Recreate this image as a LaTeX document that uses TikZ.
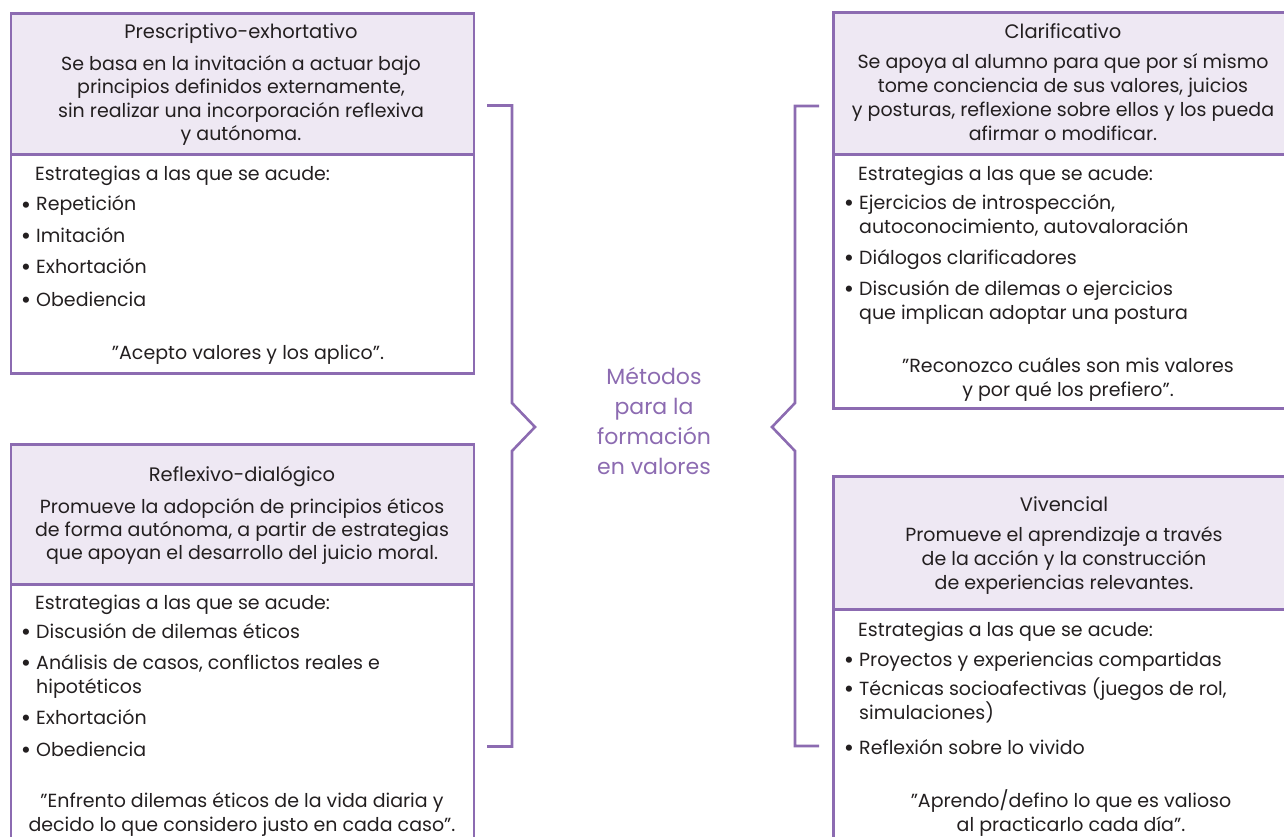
\documentclass[tikz,border=0pt]{standalone}
\usepackage{fontspec}
\setmainfont{Poppins}
\definecolor{vio}{HTML}{8C6BB1}
\definecolor{lav}{HTML}{EEE8F3}
\definecolor{ink}{HTML}{231F20}
\newcommand{\bul}{\llap{\raisebox{-2.6pt}{\fontsize{25}{25}\selectfont •}\hspace{5pt}}}
\begin{document}
\begin{tikzpicture}[x=1pt,y=-1pt,
  frame/.style={draw=vio, line width=2.6pt, inner sep=0pt, anchor=north west, minimum width=463pt},
  head/.style={frame, fill=lav},
  ttl/.style={font=\fontsize{19.5}{22}\selectfont, text=ink, anchor=base, inner sep=0pt},
  para/.style={font=\fontsize{19}{23.5}\selectfont, align=center, text=ink, anchor=base, inner sep=0pt},
  lbl/.style={font=\fontsize{19}{24}\selectfont, text=ink, anchor=base west, inner sep=0pt, align=left},
  quote/.style={font=\fontsize{19}{23.5}\selectfont, text=ink, anchor=base, inner sep=0pt, align=center},
  brace/.style={draw=vio, line width=2.6pt, line join=miter}]
\useasboundingbox (0,0) rectangle (1284,837);

% ---------- top left ----------
\node[frame, minimum height=219pt] (b1) at (9.5,153) {};
\node[head, minimum height=141pt] (h1) at (9.5,12) {};
\node[ttl] (t1) at (241,39) {Prescriptivo-exhortativo};
\node[para] (p1) at (241,141) {Se basa en la invitación a actuar bajo\\principios definidos externamente,\\sin realizar una incorporación reflexiva\\y autónoma.};
\node[lbl] (e1) at (35,181) {Estrategias a las que se acude:};
\node[lbl] (i11) at (36,211) {\bul Repetición};
\node[lbl] (i12) at (36,242) {\bul Imitación};
\node[lbl] (i13) at (36,273) {\bul Exhortación};
\node[lbl] (i14) at (36,306) {\bul Obediencia};
\node[quote] (q1) at (248,359) {”Acepto valores y los aplico”.};

% ---------- top right ----------
\node[frame, minimum height=254pt] (b2) at (832,153) {};
\node[head, minimum height=142pt] (h2) at (832,11) {};
\node[ttl] (t2) at (1063,39) {Clarificativo};
\node[para, font=\fontsize{19}{24}\selectfont] (p2) at (1063,141) {Se apoya al alumno para que por sí mismo\\tome conciencia de sus valores, juicios\\y posturas, reflexione sobre ellos y los pueda\\afirmar o modificar.};
\node[lbl] (e2) at (858,181) {Estrategias a las que se acude:};
\node[lbl] (i21) at (859,233) {\bul Ejercicios de introspección,\\autoconocimiento, autovaloración};
\node[lbl] (i22) at (859,264) {\bul Diálogos clarificadores};
\node[lbl] (i23) at (859,319) {\bul Discusión de dilemas o ejercicios\\que implican adoptar una postura};
\node[quote] (q2) at (1068,396) {”Reconozco cuáles son mis valores\\y por qué los prefiero”.};

% ---------- bottom left ----------
\node[frame, minimum height=280pt] (b3) at (9.5,583) {};
\node[head, minimum height=140pt] (h3) at (9.5,443) {};
\node[ttl] (t3) at (242,481) {Reflexivo-dialógico};
\node[para, font=\fontsize{19}{23}\selectfont] (p3) at (242,559) {Promueve la adopción de principios éticos\\de forma autónoma, a partir de estrategias\\que apoyan el desarrollo del juicio moral.};
\node[lbl] (e3) at (35,609) {Estrategias a las que se acude:};
\node[lbl] (i31) at (36,638) {\bul Discusión de dilemas éticos};
\node[lbl] (i32) at (36,693) {\bul Análisis de casos, conflictos reales e\\hipotéticos};
\node[lbl] (i33) at (36,724) {\bul Exhortación};
\node[lbl] (i34) at (36,756) {\bul Obediencia};
\node[quote] (q3) at (242,831) {”Enfrento dilemas éticos de la vida diaria y\\decido lo que considero justo en cada caso”.};

% ---------- bottom right ----------
\node[frame, minimum height=250pt] (b4) at (832,608) {};
\node[head, minimum height=133pt] (h4) at (832,475) {};
\node[ttl] (t4) at (1064,511) {Vivencial};
\node[para, font=\fontsize{19}{24}\selectfont] (p4) at (1064,589) {Promueve el aprendizaje a través\\de la acción y la construcción\\de experiencias relevantes.};
\node[lbl] (e4) at (858,636) {Estrategias a las que se acude:};
\node[lbl] (i41) at (859,666) {\bul Proyectos y experiencias compartidas};
\node[lbl] (i42) at (859,719) {\bul Técnicas socioafectivas (juegos de rol,\\simulaciones)};
\node[lbl] (i43) at (859,754) {\bul Reflexión sobre lo vivido};
\node[quote] (q4) at (1071,831) {”Aprendo/defino lo que es valioso\\al practicarlo cada día”.};

% ---------- centre ----------
\node[para, font=\fontsize{22}{30}\selectfont, text=vio] (centro) at (654,474) {Métodos\\para la\\formación\\en valores};

% ---------- braces ----------
\coordinate (la) at (487,105.5);
\coordinate (lb) at (487,746.5);
\coordinate (lp) at (535,427);
\coordinate (ra) at (819,106);
\coordinate (rb) at (819,746);
\coordinate (rp) at (772,427);
\draw[brace] (la) -- (512,105.5) -- (512,403) -- (lp) -- (512,451) -- (512,746.5) -- (lb);
\draw[brace] (ra) -- (795,106) -- (795,403) -- (rp) -- (795,451) -- (795,746) -- (rb);
\end{tikzpicture}
\end{document}
